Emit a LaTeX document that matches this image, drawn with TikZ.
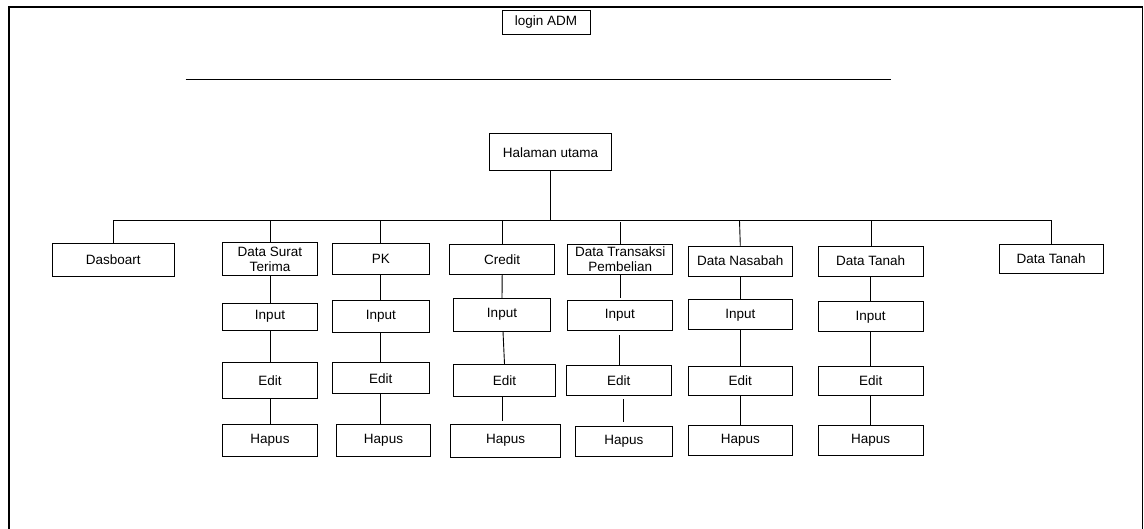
\documentclass[tikz,border=0pt]{standalone}
\usepackage{fontspec}
\setmainfont{Liberation Sans}
\begin{document}
\begin{tikzpicture}[x=1pt,y=-1pt,
  box/.style={draw=black, line width=0.9pt, rectangle, inner sep=0pt,
    align=center, font=\fontsize{13.5}{15.3}\selectfont},
  link/.style={draw=black, line width=0.9pt},
  frame/.style={draw=black, line width=1.8pt}]
\useasboundingbox (0,0) rectangle (1144,529);

% outer frame, open at the bottom
\draw[frame] (9,529) -- (9,7) -- (1142.5,7) -- (1142.5,529);

% title and separator
\node[box, minimum width=88pt, minimum height=24pt] (login) at (546,22) {login ADM};
\coordinate (sepL) at (185.7,79);
\coordinate (sepR) at (891.3,79);
\draw[link] (sepL) -- (sepR);

% main page
\node[box, minimum width=122.4pt, minimum height=37pt] (home) at (550.5,152.2) {Halaman utama};

% menu row
\node[box, minimum width=121.7pt, minimum height=33pt] (dash) at (113.2,259.8) {Dasboart};
\node[box, minimum width=95.4pt, minimum height=32.7pt] (dst) at (270,259.3) {Data Surat\\Terima};
\node[box, minimum width=97pt, minimum height=31.4pt] (pk) at (380.8,259) {PK};
\node[box, minimum width=105pt, minimum height=30.4pt] (cr) at (502.2,259.5) {Credit};
\node[box, minimum width=105pt, minimum height=30.4pt] (dtp) at (620.2,259.5) {Data Transaksi\\Pembelian};
\node[box, minimum width=104.7pt, minimum height=30pt] (dn) at (740.3,261) {Data Nasabah};
\node[box, minimum width=104.7pt, minimum height=30pt] (dt) at (870.7,261) {Data Tanah};
\node[box, minimum width=104.3pt, minimum height=29.3pt] (dtb) at (1051.2,258.7) {Data Tanah};

% input row
\node[box, minimum width=95.4pt, minimum height=27.3pt] (dsti) at (270,316.7) {Input};
\node[box, minimum width=97pt, minimum height=31.6pt] (pki) at (380.8,316.5) {Input};
\node[box, minimum width=97.4pt, minimum height=32.7pt] (cri) at (502,314.7) {Input};
\node[box, minimum width=105pt, minimum height=30pt] (dtpi) at (619.8,315.7) {Input};
\node[box, minimum width=104.7pt, minimum height=29.7pt] (dni) at (740.3,314.8) {Input};
\node[box, minimum width=104.7pt, minimum height=29.7pt] (dti) at (870.7,316.8) {Input};

% edit row
\node[box, minimum width=95.4pt, minimum height=36.3pt] (dste) at (270,380.8) {Edit};
\node[box, minimum width=97pt, minimum height=31.3pt] (pke) at (380.8,378.3) {Edit};
\node[box, minimum width=102.4pt, minimum height=32.4pt] (cre) at (504.5,380.5) {Edit};
\node[box, minimum width=105pt, minimum height=29.6pt] (dtpe) at (618.8,380.5) {Edit};
\node[box, minimum width=104.7pt, minimum height=29.3pt] (dne) at (740.3,380.7) {Edit};
\node[box, minimum width=104.7pt, minimum height=29.3pt] (dte) at (870.7,380.7) {Edit};

% delete row
\node[box, minimum width=95.4pt, minimum height=32.3pt] (dsth) at (270,440.2) {Hapus};
\node[box, minimum width=93.6pt, minimum height=32.4pt] (pkh) at (383.5,440.5) {Hapus};
\node[box, minimum width=110pt, minimum height=33pt] (crh) at (505.7,440.5) {Hapus};
\node[box, minimum width=97.7pt, minimum height=30pt] (dtph) at (623.8,441.3) {Hapus};
\node[box, minimum width=104.7pt, minimum height=29.6pt] (dnh) at (740.3,440.5) {Hapus};
\node[box, minimum width=104.7pt, minimum height=30pt] (dth) at (870.7,440.3) {Hapus};

% bus from the main page to the menu row
\coordinate (busL) at (113.3,220.5);
\coordinate (busR) at (1051.7,220.5);
\draw[link] (busL) -- (busR);
\draw[link] (home.south) -- (home.south |- busL);
\draw[link] (dash.north) -- (dash.north |- busL);
\draw[link] (dst.north) -- (dst.north |- busL);
\draw[link] (pk.north) -- (pk.north |- busL);
\draw[link] (cr.north) -- (cr.north |- busL);
\draw[link] (dtp.north) -- ([yshift=-1.5pt]dtp.north |- busL);
\draw[link] (dn.north) -- ([xshift=-0.8pt]dn.north |- busL);
\draw[link] ([xshift=1pt]dt.north) -- ([xshift=1pt]dt.north |- busL);
\draw[link] (dtb.north) -- (dtb.north |- busL);

% Data Surat Terima column
\draw[link] (dst.south) -- (dsti.north);
\draw[link] (dsti.south) -- (dste.north);
\draw[link] (dste.south) -- (dsth.north);

% PK column
\draw[link] (pk.south) -- (pki.north);
\draw[link] (pki.south) -- (pke.north);
\draw[link] (pke.south) -- (pke.south |- pkh.north);

% Credit column
\draw[link] (cr.south) -- (cri.north);
\draw[link] ([xshift=1pt]cri.south) -- (cre.north);
\draw[link] ([xshift=-2.2pt]cre.south) -- ([xshift=-2.2pt,yshift=3pt]cre.south |- crh.north);

% Data Transaksi Pembelian column
\draw[link] (dtp.south) -- ([yshift=2pt]dtp.south |- dtpi.north);
\draw[link] ([xshift=-0.8pt,yshift=-4pt]dtpi.south) -- ([xshift=-0.8pt]dtpi.south |- dtpe.north);
\draw[link] ([xshift=4.9pt,yshift=-3.7pt]dtpe.south) -- ([xshift=4.9pt,yshift=4pt]dtpe.south |- dtph.north);

% Data Nasabah column
\draw[link] (dn.south) -- (dni.north);
\draw[link] (dni.south) -- (dne.north);
\draw[link] (dne.south) -- (dnh.north);

% Data Tanah column
\draw[link] (dt.south) -- (dti.north);
\draw[link] (dti.south) -- (dte.north);
\draw[link] (dte.south) -- (dth.north);
\end{tikzpicture}
\end{document}
